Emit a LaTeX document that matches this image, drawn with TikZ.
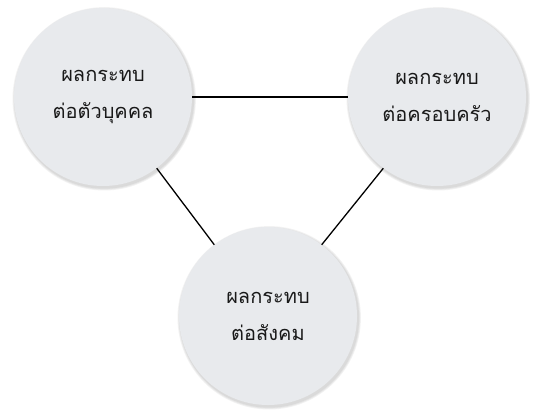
\documentclass[tikz,border=0pt]{standalone}
\usepackage{fontspec}
\newfontfamily\thaifont[Script=Thai]{Loma}
\definecolor{circfill}{HTML}{E8EAED}
\tikzset{
  bubble/.style={circle, fill=circfill, minimum size=178pt, inner sep=0pt,
    font=\thaifont\fontsize{20}{37}\selectfont, align=center, text=black!90},
  shade1/.style={fill=black, opacity=0.05},
  link/.style={draw=black, line width=1.3pt}
}
\begin{document}
\begin{tikzpicture}[x=1pt,y=-1pt]
\useasboundingbox (0,0) rectangle (533,414);
\foreach \c in {(103,97),(437,97),(268,316)}{
  \foreach \d in {1,2,3}{
    \path[shade1] \c ++(1.2,1.8) circle[radius=89+\d*0.9];
  }
}
\node[bubble] (ind) at (103,97) {ผลกระทบ\\ต่อตัวบุคคล};
\node[bubble] (fam) at (437,97) {ผลกระทบ\\ต่อครอบครัว};
\node[bubble] (soc) at (268,316) {ผลกระทบ\\ต่อสังคม};
\draw[link] (ind.east) -- (fam.west);
\draw[link] (ind.-53) -- (soc.127);
\draw[link] (fam.-127) -- (soc.53);
\end{tikzpicture}
\end{document}
